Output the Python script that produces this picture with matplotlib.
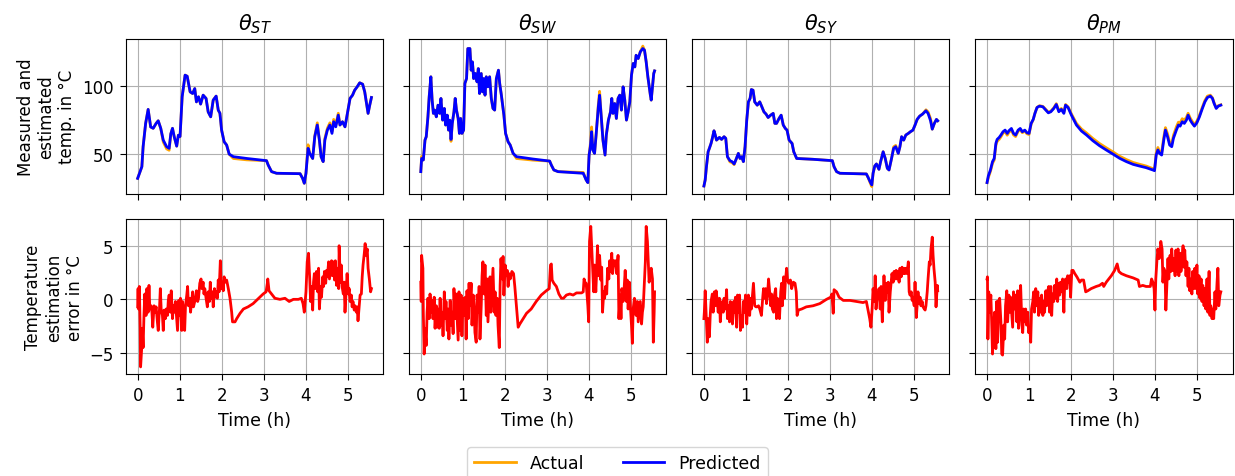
import matplotlib
matplotlib.use("Agg")
import matplotlib.pyplot as plt

# temperature traces (hours, degC)
t_st = [0.00, 0.10, 0.13, 0.19, 0.25, 0.31, 0.37, 0.44, 0.49, 0.55, 0.61, 0.69, 0.75, 0.79, 0.83, 0.87,
        0.93, 0.97, 1.01, 1.06, 1.13, 1.18, 1.25, 1.31, 1.36, 1.40, 1.45, 1.50, 1.56, 1.63, 1.68, 1.74,
        1.80, 1.87, 1.92, 1.96, 2.00, 2.06, 2.12, 2.18, 2.28, 2.60, 3.07, 3.11, 3.19, 3.31, 3.87, 3.93,
        3.97, 4.01, 4.06, 4.10, 4.17, 4.22, 4.28, 4.33, 4.37, 4.42, 4.46, 4.52, 4.58, 4.63, 4.67, 4.72,
        4.78, 4.82, 4.88, 4.94, 4.99, 5.06, 5.12, 5.17, 5.23, 5.29, 5.36, 5.41, 5.49, 5.53, 5.57]
act_st = [32.5, 41, 55.6, 72.6, 82.8, 70, 69, 72.6, 74.5, 69, 59.0, 54.0, 53.0, 65, 69, 63,
          56, 64, 63, 92, 107.8, 107, 95.6, 94.4, 98, 88.3, 92, 86.7, 93.2, 90.8, 81, 77.4,
          89.6, 92.5, 82.3, 80, 67.7, 59.2, 56.8, 50.2, 47.0, 46.0, 45.4, 42.2, 37.4, 36.2, 35.9, 32.5,
          28.9, 36.2, 57.0, 50.7, 47, 63.5, 73.0, 60.4, 48.3, 44.7, 61.5, 69.0, 73.0, 66.5, 75.5, 71.5,
          80.0, 71.4, 73.8, 70.1, 78.6, 90.8, 93.2, 96.8, 99.3, 102.2, 101.2, 95.6, 79.9, 86, 91.5]
pred_st = [32.5, 41, 55.6, 72.6, 82.8, 70, 69, 72.6, 74.5, 69, 60.4, 55.6, 54.4, 65, 69, 63,
           56, 64, 63, 92, 107.8, 107, 95.6, 94.4, 98, 88.3, 92, 86.7, 93.2, 90.8, 81, 77.4,
           89.6, 92.5, 82.3, 80, 67.7, 59.2, 56.8, 50.2, 48.3, 47.0, 45.4, 42.2, 37.4, 36.2, 35.9, 32.5,
           28.9, 36.2, 54.4, 50.7, 47, 62.9, 71.4, 60.4, 48.3, 44.7, 60.4, 67.7, 71.4, 65.3, 73.8, 70.1,
           78.6, 71.4, 73.8, 70.1, 78.6, 90.8, 93.2, 96.8, 99.3, 102.2, 101.2, 95.6, 79.9, 86, 91.5]

t_sw = [0.00, 0.02, 0.06, 0.10, 0.13, 0.17, 0.20, 0.24, 0.27, 0.30, 0.33, 0.37, 0.41, 0.45, 0.48, 0.52,
        0.56, 0.59, 0.63, 0.66, 0.69, 0.72, 0.75, 0.79, 0.82, 0.85, 0.89, 0.92, 0.95, 0.98, 1.02, 1.05,
        1.09, 1.12, 1.17, 1.20, 1.23, 1.26, 1.30, 1.34, 1.37, 1.40, 1.44, 1.47, 1.50, 1.53, 1.56, 1.60,
        1.64, 1.68, 1.72, 1.76, 1.80, 1.85, 1.88, 1.92, 1.98, 2.02, 2.08, 2.13, 2.20, 2.28, 2.67, 3.07,
        3.11, 3.17, 3.27, 3.87, 3.94, 3.98, 4.01, 4.04, 4.07, 4.10, 4.14, 4.18, 4.23, 4.26, 4.30, 4.34,
        4.39, 4.42, 4.47, 4.52, 4.55, 4.58, 4.62, 4.66, 4.70, 4.74, 4.78, 4.82, 4.86, 4.90, 4.94, 4.98,
        5.02, 5.06, 5.10, 5.13, 5.18, 5.23, 5.29, 5.33, 5.37, 5.41, 5.47, 5.49, 5.52, 5.55, 5.57]
act_sw = [37.4, 48.5, 45.9, 60.4, 62.9, 77.4, 92, 106.6, 89.6, 79.9, 82.3, 77.4, 85.9, 79.9, 90.8, 75,
          83.5, 71.4, 78.6, 67.7, 73.5, 59.5, 72.6, 81, 90.8, 82.3, 76.2, 65.3, 76.2, 65.3, 67.7, 101.7,
          105.3, 127.2, 127.2, 111.4, 117.5, 105.3, 109, 102.9, 112.6, 94.4, 109, 95.6, 105.3, 93.2, 106.6, 99.3,
          106.6, 90.8, 83.5, 82.3, 105.3, 111.4, 101.7, 93.2, 78.6, 65.3, 59.2, 56.8, 50.7, 47.0, 45.8, 45.1,
          42.2, 38.6, 37.4, 36.8, 31.3, 29.4, 49.5, 57.5, 70.0, 53.2, 50.7, 65.3, 86.5, 96.0, 77.4, 60.4,
          49.5, 64.1, 75, 81, 90.8, 79.9, 87.1, 76.2, 90.8, 93.2, 82.3, 99.3, 89.6, 75, 81, 88.3,
          107.8, 116.3, 113.8, 122.3, 119.9, 124.8, 129.0, 126, 117.5, 106.6, 93.2, 89.6, 99.3, 109, 110.9]
pred_sw = [37.4, 47, 45.9, 60.4, 62.9, 77.4, 92, 106.6, 89.6, 79.9, 82.3, 77.4, 85.9, 79.9, 90.8, 75,
           83.5, 71.4, 78.6, 67.7, 75, 60.9, 72.6, 81, 90.8, 82.3, 76.2, 65.3, 76.2, 65.3, 67.7, 101.7,
           105.3, 127.2, 127.2, 111.4, 117.5, 105.3, 109, 102.9, 112.6, 94.4, 109, 95.6, 105.3, 93.2, 106.6, 99.3,
           106.6, 90.8, 83.5, 82.3, 105.3, 111.4, 101.7, 93.2, 78.6, 65.3, 59.2, 56.8, 50.7, 48.3, 46.6, 45.1,
           42.2, 38.6, 37.4, 36.2, 31.3, 29.4, 49.5, 55.6, 66.5, 53.2, 50.7, 65.3, 84.7, 93.2, 77.4, 60.4,
           49.5, 64.1, 75, 81, 90.8, 79.9, 87.1, 76.2, 90.8, 93.2, 82.3, 99.3, 89.6, 75, 81, 88.3,
           107.8, 116.3, 113.8, 122.3, 119.9, 124.8, 127.2, 126, 117.5, 106.6, 93.2, 89.6, 99.3, 109, 110.9]

t_sy = [0.00, 0.03, 0.06, 0.10, 0.13, 0.17, 0.20, 0.24, 0.27, 0.30, 0.37, 0.42, 0.48, 0.52, 0.56, 0.62,
        0.67, 0.72, 0.76, 0.82, 0.86, 0.90, 0.94, 0.98, 1.02, 1.06, 1.10, 1.13, 1.17, 1.21, 1.27, 1.33,
        1.38, 1.43, 1.48, 1.53, 1.59, 1.65, 1.69, 1.73, 1.79, 1.84, 1.89, 1.94, 1.98, 2.03, 2.10, 2.14,
        2.21, 2.60, 3.06, 3.10, 3.16, 3.24, 3.87, 3.91, 3.97, 4.00, 4.03, 4.07, 4.11, 4.17, 4.21, 4.27,
        4.32, 4.37, 4.41, 4.47, 4.52, 4.57, 4.63, 4.67, 4.71, 4.76, 4.81, 4.87, 4.92, 4.98, 5.03, 5.08,
        5.14, 5.21, 5.29, 5.34, 5.40, 5.44, 5.49, 5.54, 5.57]
act_sy = [26.9, 31.3, 41, 51.9, 54.4, 58, 61.7, 67.2, 64.1, 60.4, 62.4, 60.9, 62.9, 61.7, 48.3, 44.5,
          44.0, 42.5, 45.9, 50.7, 47, 48.3, 44.7, 55.6, 75, 88.3, 90.8, 97.3, 96.8, 88.3, 85.9, 88.3,
          84.7, 81, 79.4, 76.9, 78.6, 79.9, 72.6, 72.6, 76.2, 78.6, 71.4, 68.9, 67.7, 60.4, 58, 51.9,
          47, 46.4, 45.4, 41, 37.4, 36.2, 35.7, 33.3, 28.5, 26.5, 36.2, 41.5, 43, 39.1, 44.7, 51.9,
          47, 39.8, 38.6, 47, 55.5, 56.5, 50.7, 55.6, 62.9, 60.4, 64.1, 65.3, 66.5, 67.7, 71.4, 75.5,
          77.9, 79.4, 82.5, 81.0, 76.0, 68.4, 72.6, 75.5, 74.5]
pred_sy = [26.9, 31.3, 41, 51.9, 54.4, 58, 61.7, 67.2, 64.1, 60.4, 62.4, 60.9, 62.9, 61.7, 48.3, 45.4,
           44.7, 43, 45.9, 50.7, 47, 48.3, 44.7, 55.6, 75, 88.3, 90.8, 97.3, 96.8, 88.3, 85.9, 88.3,
           84.7, 81, 79.4, 76.9, 78.6, 79.9, 72.6, 72.6, 76.2, 78.6, 71.4, 68.9, 67.7, 60.4, 58, 51.9,
           47, 46.4, 45.4, 41, 37.4, 36.2, 35.7, 33.3, 29.4, 27.7, 36.2, 41.5, 43, 39.1, 44.7, 51.9,
           47, 39.8, 38.6, 47, 54.4, 55.6, 50.7, 55.6, 62.9, 60.4, 64.1, 65.3, 66.5, 67.7, 71.4, 75.5,
           77.9, 79.4, 81.8, 79.9, 74.5, 68.4, 72.6, 75.5, 74.5]

t_pm = [0.00, 0.03, 0.08, 0.13, 0.17, 0.21, 0.24, 0.29, 0.33, 0.38, 0.43, 0.48, 0.52, 0.58, 0.63, 0.68,
        0.74, 0.79, 0.84, 0.90, 0.95, 1.00, 1.05, 1.10, 1.14, 1.19, 1.25, 1.33, 1.40, 1.46, 1.52, 1.59,
        1.65, 1.71, 1.77, 1.83, 1.87, 1.93, 2.01, 2.13, 2.25, 2.37, 2.52, 2.68, 2.84, 3.00, 3.16, 3.32,
        3.48, 3.63, 3.79, 3.95, 3.99, 4.03, 4.07, 4.11, 4.16, 4.21, 4.25, 4.30, 4.35, 4.40, 4.44, 4.51,
        4.56, 4.60, 4.65, 4.70, 4.75, 4.79, 4.84, 4.89, 4.94, 5.00, 5.06, 5.13, 5.19, 5.25, 5.32, 5.37,
        5.41, 5.46, 5.51, 5.57]
act_pm = [29.4, 33.0, 37.5, 43.5, 45.8, 56.5, 59.5, 61.0, 62.8, 65.5, 66.5, 64.0, 66.0, 68.0, 64.2, 63.0,
          66.8, 68.0, 65.8, 67.0, 65.0, 64.5, 72.0, 75.5, 79.9, 84.2, 85.5, 85.0, 82.8, 80.8, 81.6, 84.0,
          87.0, 81.8, 83.5, 80.6, 86.4, 84.7, 79.5, 72.6, 68.5, 65.6, 61.6, 57.9, 54.8, 51.8, 48.6, 46.2,
          44.1, 42.8, 41.5, 39.6, 38.8, 51.0, 55.0, 52.0, 51.5, 62.5, 69.5, 65.0, 58.8, 57.6, 63.8, 70.0,
          73.5, 73.0, 76.0, 75.0, 77.0, 80.0, 76.5, 74.0, 71.8, 74.3, 78.5, 84.5, 89.3, 92.5, 93.2, 91.3,
          87.6, 84.0, 85.5, 86.2]
pred_pm = [29.4, 34.2, 38.6, 44.7, 47, 58, 60.9, 62.4, 64.1, 66.5, 67.7, 65.3, 67.2, 68.9, 65.3, 64.1,
           67.7, 68.9, 66.5, 67.7, 65.8, 65.3, 72.6, 75.5, 79.9, 84.2, 85.2, 84.7, 82.3, 80.3, 81.1, 83.5,
           86.4, 81.1, 82.8, 79.9, 85.9, 84.2, 78.6, 71.4, 67, 64.1, 60, 56.3, 53.2, 50.2, 47.1, 44.7,
           42.7, 41.5, 40.3, 38.6, 38.1, 49.5, 53.2, 50.7, 49.5, 60.4, 67.7, 62.9, 56.8, 55.6, 61.7, 67.7,
           71.4, 70.6, 73.8, 72.6, 75, 78.6, 75, 72.6, 70.6, 73.1, 77.4, 83.5, 88.3, 91.5, 92.5, 90.8,
           87.1, 83.5, 85.2, 85.9]

# estimation error traces (hours, degC)
te_st = [0.00, 0.01, 0.02, 0.04, 0.06, 0.07, 0.10, 0.11, 0.13, 0.15, 0.17, 0.20, 0.22, 0.25, 0.27, 0.29,
         0.32, 0.34, 0.36, 0.39, 0.41, 0.44, 0.47, 0.49, 0.52, 0.54, 0.56, 0.59, 0.61, 0.63, 0.66, 0.68,
         0.71, 0.73, 0.75, 0.78, 0.80, 0.83, 0.85, 0.87, 0.90, 0.93, 0.95, 0.98, 1.00, 1.02, 1.05, 1.07,
         1.10, 1.12, 1.14, 1.17, 1.19, 1.21, 1.24, 1.26, 1.29, 1.31, 1.33, 1.36, 1.38, 1.40, 1.43, 1.45,
         1.48, 1.51, 1.53, 1.56, 1.58, 1.60, 1.63, 1.66, 1.68, 1.71, 1.73, 1.75, 1.78, 1.80, 1.83, 1.85,
         1.87, 1.90, 1.92, 1.94, 1.97, 1.99, 2.02, 2.04, 2.06, 2.09, 2.12, 2.16, 2.20, 2.24, 2.26, 2.32,
         2.36, 2.44, 2.52, 2.63, 2.75, 2.83, 2.91, 2.99, 3.06, 3.09, 3.10, 3.13, 3.19, 3.27, 3.39, 3.51,
         3.61, 3.71, 3.83, 3.90, 3.94, 3.97, 4.01, 4.04, 4.07, 4.10, 4.12, 4.14, 4.17, 4.19, 4.21, 4.24,
         4.26, 4.29, 4.31, 4.33, 4.36, 4.38, 4.41, 4.43, 4.45, 4.48, 4.50, 4.52, 4.55, 4.57, 4.60, 4.62,
         4.64, 4.67, 4.69, 4.71, 4.74, 4.76, 4.79, 4.80, 4.83, 4.85, 4.87, 4.90, 4.92, 4.94, 4.97, 4.99,
         5.02, 5.04, 5.06, 5.09, 5.11, 5.13, 5.16, 5.18, 5.21, 5.23, 5.25, 5.28, 5.30, 5.33, 5.35, 5.37,
         5.40, 5.42, 5.44, 5.47, 5.49, 5.52, 5.55, 5.57]
err_st = [-0.7, 1.0, -0.9, 1.2, -2.7, -6.3, -4.3, -2.7, -4.5, -1.5, 0.5, -1.5, 1.0, -1.2, 1.3, -0.9,
          -0.6, -1.2, -2.6, -0.6, -1.2, -0.7, -2.1, -2.9, -0.9, 1.0, -0.9, -1.5, -2.9, -1.0, -1.8, -0.9,
          -1.5, -0.1, 0.4, -1.2, 0.8, -1.8, -0.6, -1.2, -0.2, -1.8, -2.9, -0.1, -1.5, 0.1, -2.9, -0.2,
          -1.8, -2.9, -0.6, 0.4, 1.2, -0.6, 0.1, -1.2, -0.1, 0.7, -0.7, -0.2, 0.2, 0.8, -0.2, 0.1,
          1.5, 1.9, 1.0, 1.6, 0.5, 1.0, 0.1, -0.7, 0.7, -0.2, 1.6, 0.1, 0.7, -0.7, 1.0, 0.2,
          0.7, 0.1, 1.8, 0.7, 3.6, 1.0, 1.6, 0.8, 2.1, 1.6, 1.8, 1.0, 0.1, -1.2, -2.1, -2.1,
          -1.8, -1.3, -0.9, -0.7, -0.4, -0.1, 0.2, 0.5, 0.7, 1.5, 1.9, 0.8, 0.5, 0.1, 0.0, 0.1,
          -0.2, 0.0, 0.0, 0.1, -0.4, -1.2, 0.7, 3.5, 4.3, 1.9, -0.2, 1.2, -1.0, 1.6, 2.4, 1.0,
          2.6, 0.7, 2.9, -0.9, 1.2, 0.2, 2.1, 1.2, 2.6, 1.5, 2.7, 2.1, 3.5, 1.9, 2.9, 3.6,
          2.2, 3.5, 1.8, 3.6, 1.3, 2.9, 1.0, 5.0, 1.6, 3.2, 1.2, 0.5, 1.6, -1.2, 1.0, 2.4,
          0.5, 1.0, -0.2, 0.4, -0.7, -0.2, -1.0, -0.6, -1.2, -0.7, -2.0, -0.6, 0.4, 0.5, 2.1, 3.2,
          4.3, 5.2, 4.1, 4.7, 2.9, 1.9, 0.7, 1.0]

te_sw = [0.00, 0.01, 0.02, 0.05, 0.06, 0.08, 0.10, 0.13, 0.15, 0.17, 0.20, 0.22, 0.25, 0.27, 0.29, 0.32,
         0.34, 0.37, 0.39, 0.41, 0.44, 0.46, 0.48, 0.51, 0.53, 0.56, 0.58, 0.60, 0.63, 0.65, 0.67, 0.70,
         0.72, 0.75, 0.77, 0.79, 0.82, 0.84, 0.87, 0.89, 0.91, 0.94, 0.96, 0.98, 1.01, 1.03, 1.06, 1.08,
         1.10, 1.13, 1.15, 1.17, 1.20, 1.22, 1.25, 1.27, 1.29, 1.32, 1.34, 1.37, 1.39, 1.41, 1.44, 1.46,
         1.48, 1.51, 1.53, 1.56, 1.58, 1.60, 1.63, 1.65, 1.67, 1.70, 1.72, 1.75, 1.77, 1.79, 1.82, 1.84,
         1.87, 1.89, 1.91, 1.94, 1.96, 1.98, 2.01, 2.03, 2.06, 2.08, 2.10, 2.13, 2.17, 2.21, 2.24, 2.28,
         2.32, 2.36, 2.44, 2.52, 2.63, 2.75, 2.87, 2.99, 3.06, 3.09, 3.11, 3.13, 3.17, 3.23, 3.29, 3.35,
         3.40, 3.47, 3.55, 3.63, 3.71, 3.83, 3.87, 3.89, 3.91, 3.94, 3.98, 4.00, 4.02, 4.05, 4.07, 4.10,
         4.12, 4.14, 4.17, 4.19, 4.21, 4.24, 4.26, 4.29, 4.31, 4.33, 4.36, 4.38, 4.40, 4.43, 4.45, 4.48,
         4.50, 4.52, 4.55, 4.57, 4.60, 4.62, 4.64, 4.67, 4.70, 4.72, 4.75, 4.77, 4.79, 4.82, 4.84, 4.87,
         4.90, 4.92, 4.94, 4.97, 4.99, 5.02, 5.04, 5.06, 5.09, 5.11, 5.13, 5.16, 5.18, 5.21, 5.23, 5.26,
         5.28, 5.30, 5.33, 5.35, 5.37, 5.40, 5.42, 5.44, 5.47, 5.49, 5.52, 5.54, 5.56, 5.57]
err_sw = [1.6, -0.2, 4.1, 2.9, -1.2, -5.1, -2.7, -4.3, -1.2, 0.1, -1.8, 0.5, -1.2, -0.1, -1.8, 0.2,
          -2.7, -0.6, -2.6, -0.9, -2.7, 0.1, -2.4, -1.2, -3.4, 0.7, -1.8, -0.2, -2.9, -0.9, -3.7, -0.1,
          -2.4, -1.2, -3.2, 1.0, -1.8, 0.5, -2.1, -3.8, 0.7, -2.9, 0.4, -3.4, 0.1, -1.5, 0.2, -3.7,
          0.8, -1.8, 1.5, -0.6, 1.5, -2.4, 0.4, -0.7, -3.1, -4.0, 0.4, -1.2, 1.2, -3.7, -0.6, 2.2,
          3.5, 0.5, 3.2, -1.5, 1.9, -2.1, 0.4, 2.1, -1.2, 1.3, 2.9, -1.2, 0.7, -1.5, 0.1, -2.4,
          -4.5, 1.3, 3.8, 1.9, 4.0, 0.4, 3.2, 2.2, 2.7, 1.2, 2.4, 1.9, 2.6, 2.4, 1.2, -0.7,
          -2.6, -2.3, -1.8, -1.3, -0.9, -0.2, 0.4, 0.8, 1.0, 3.2, 3.3, 1.8, 1.5, 1.2, 0.5, 0.1,
          0.1, 0.4, 0.5, 0.4, 0.6, 0.6, 0.7, 1.9, 1.6, 1.5, -0.6, -2.1, 5.4, 6.8, 5.0, 2.1,
          0.7, 3.2, 0.7, 2.6, 5.0, 2.2, 4.1, 1.8, 3.0, -1.2, 0.7, 0.1, 1.2, 0.5, 2.9, 1.9,
          3.6, 2.6, 4.3, 2.4, 3.6, 3.2, 3.6, 2.4, 4.1, -1.8, 0.4, -1.8, 1.0, -0.2, 0.7, 2.7,
          -0.2, 1.8, -0.9, 1.6, -0.4, -2.4, -4.1, -0.9, 0.1, -0.4, -1.5, -0.2, -2.1, -0.9, -0.2, -2.3,
          -1.2, -0.7, 1.9, 3.5, 6.8, 5.4, 3.5, 1.6, 2.6, 2.9, 1.9, -4.0, -1.2, 0.7]

te_sy = [0.00, 0.01, 0.03, 0.06, 0.08, 0.10, 0.13, 0.15, 0.17, 0.20, 0.22, 0.25, 0.27, 0.29, 0.32, 0.34,
         0.37, 0.39, 0.41, 0.44, 0.46, 0.48, 0.51, 0.54, 0.56, 0.59, 0.61, 0.63, 0.66, 0.68, 0.71, 0.73,
         0.75, 0.78, 0.80, 0.83, 0.85, 0.87, 0.90, 0.92, 0.94, 0.97, 0.99, 1.02, 1.04, 1.06, 1.09, 1.11,
         1.13, 1.16, 1.18, 1.21, 1.24, 1.27, 1.30, 1.33, 1.37, 1.40, 1.42, 1.44, 1.47, 1.49, 1.52, 1.54,
         1.56, 1.59, 1.61, 1.63, 1.66, 1.68, 1.71, 1.73, 1.75, 1.78, 1.80, 1.83, 1.85, 1.87, 1.90, 1.92,
         1.94, 1.97, 1.99, 2.02, 2.06, 2.09, 2.13, 2.17, 2.20, 2.22, 2.25, 2.33, 2.44, 2.60, 2.76, 2.92,
         3.02, 3.05, 3.08, 3.10, 3.16, 3.22, 3.32, 3.48, 3.63, 3.79, 3.87, 3.91, 3.95, 3.98, 4.01, 4.03,
         4.06, 4.08, 4.10, 4.13, 4.15, 4.17, 4.20, 4.22, 4.25, 4.27, 4.29, 4.32, 4.34, 4.37, 4.39, 4.41,
         4.44, 4.46, 4.48, 4.51, 4.53, 4.56, 4.58, 4.60, 4.63, 4.65, 4.67, 4.70, 4.72, 4.75, 4.77, 4.79,
         4.82, 4.84, 4.87, 4.89, 4.91, 4.94, 4.96, 4.98, 5.01, 5.03, 5.06, 5.08, 5.10, 5.13, 5.15, 5.17,
         5.20, 5.22, 5.25, 5.27, 5.29, 5.32, 5.34, 5.37, 5.39, 5.41, 5.44, 5.46, 5.48, 5.51, 5.53, 5.56,
         5.57]
err_sy = [-1.8, -1.2, 0.8, -2.1, -4.0, -1.8, -3.5, -1.5, -0.2, 0.5, -1.2, 0.7, -0.6, 0.8, -0.2, -1.2,
          0.1, -2.1, -0.9, -0.2, -1.2, 0.1, -0.9, 0.9, -1.8, -0.6, -2.1, -0.2, -1.2, -2.3, -0.2, -1.2,
          0.2, -2.6, 0.4, -1.2, 0.4, -2.9, -1.5, -2.6, -0.2, -1.2, 0.4, -2.3, -0.6, 0.4, -1.5, 0.1,
          -0.9, 0.5, 1.5, -0.6, -0.7, -0.7, -0.6, -0.9, -1.5, 0.1, 1.0, 0.1, 1.0, -0.4, 0.7, 1.9,
          1.0, -0.6, 0.5, -0.9, -1.2, 0.4, 1.0, -1.8, 0.1, -1.2, -1.8, 0.7, 1.5, -0.6, 2.1, 0.1,
          1.6, 2.9, 1.9, 1.5, 1.8, 1.0, 1.6, 1.5, 0.7, -1.5, -1.0, -0.9, -0.7, -0.6, -0.4, 0.0,
          0.2, 0.5, -1.3, 0.9, 0.7, 0.2, -0.1, -0.1, -0.2, -0.3, -0.2, -1.0, -1.8, -2.6, -0.7, 1.0,
          -0.2, 2.2, -0.9, 0.4, 0.2, 1.0, -0.9, 1.2, -2.1, 0.4, 2.2, -0.1, 1.5, 0.7, 1.6, -1.2,
          0.7, 1.6, 2.4, 1.6, 2.6, 1.9, 2.7, 1.9, 2.6, 1.6, 2.9, 2.1, 3.0, 2.4, 2.9, 2.4,
          2.9, 2.4, 3.5, 0.7, 0.4, 0.7, -0.1, 0.1, -0.6, 1.6, -1.7, -0.6, 0.7, -0.4, 0.2, -0.6,
          -0.2, -0.7, -0.9, -1.0, -0.6, 0.7, 1.9, 3.5, 3.2, 4.7, 5.8, 4.1, 2.9, 1.6, -0.7, 1.3,
          0.8]

te_pm = [0.00, 0.01, 0.02, 0.04, 0.06, 0.09, 0.11, 0.13, 0.16, 0.18, 0.21, 0.23, 0.25, 0.28, 0.30, 0.33,
         0.35, 0.37, 0.40, 0.42, 0.44, 0.47, 0.49, 0.52, 0.54, 0.56, 0.59, 0.61, 0.63, 0.66, 0.68, 0.71,
         0.73, 0.75, 0.78, 0.80, 0.83, 0.85, 0.87, 0.90, 0.92, 0.94, 0.97, 0.99, 1.02, 1.04, 1.06, 1.09,
         1.11, 1.13, 1.16, 1.18, 1.21, 1.23, 1.25, 1.28, 1.30, 1.33, 1.35, 1.37, 1.40, 1.42, 1.44, 1.47,
         1.49, 1.52, 1.54, 1.56, 1.59, 1.61, 1.63, 1.66, 1.68, 1.71, 1.73, 1.75, 1.78, 1.80, 1.83, 1.85,
         1.87, 1.90, 1.92, 1.94, 1.97, 1.99, 2.02, 2.05, 2.09, 2.14, 2.21, 2.25, 2.30, 2.35, 2.40, 2.48,
         2.60, 2.68, 2.75, 2.78, 2.84, 2.96, 3.04, 3.10, 3.14, 3.20, 3.32, 3.48, 3.60, 3.63, 3.71, 3.79,
         3.89, 3.92, 3.95, 3.98, 4.00, 4.02, 4.05, 4.07, 4.10, 4.12, 4.14, 4.17, 4.19, 4.21, 4.24, 4.26,
         4.29, 4.31, 4.33, 4.36, 4.38, 4.40, 4.43, 4.45, 4.48, 4.50, 4.52, 4.55, 4.57, 4.60, 4.62, 4.64,
         4.67, 4.69, 4.71, 4.74, 4.76, 4.79, 4.81, 4.83, 4.86, 4.88, 4.90, 4.93, 4.95, 4.98, 5.00, 5.02,
         5.05, 5.07, 5.10, 5.12, 5.14, 5.17, 5.19, 5.21, 5.24, 5.26, 5.29, 5.31, 5.33, 5.36, 5.38, 5.40,
         5.43, 5.45, 5.48, 5.50, 5.52, 5.55, 5.57]
err_pm = [1.9, 2.1, -3.7, 0.7, -1.2, 0.4, -2.1, -5.1, -2.4, -1.2, -4.6, -0.2, -4.0, -0.1, 0.1, -2.1,
          -5.1, -5.2, -2.4, -3.7, -0.6, 0.8, -2.1, 0.4, -1.2, 0.2, -1.5, -2.6, 0.7, -0.9, 0.4, -2.1,
          0.8, -2.7, -0.6, 1.3, -2.4, -3.1, -0.9, -2.1, -0.9, -2.4, -1.2, -3.1, -2.7, -4.0, -0.9, -0.2,
          0.7, -1.2, 1.0, -0.6, 0.7, -1.5, 0.1, -1.2, 0.4, -1.5, -0.2, -1.2, 0.8, -0.6, 0.7, 1.2,
          -1.2, 1.2, -1.5, 0.5, -0.2, 1.3, 0.1, 1.9, -0.2, 1.5, 0.4, 1.6, 0.7, 1.9, -1.2, 1.5,
          1.9, 1.0, 2.2, 1.6, 2.2, 0.2, 2.7, 2.7, 2.4, 2.1, 1.6, 1.8, 1.8, 0.7, 0.8, 1.0,
          1.2, 1.3, 1.5, 1.2, 1.6, 2.2, 2.7, 3.3, 2.6, 2.4, 2.2, 2.0, 1.8, 1.2, 1.3, 1.2,
          1.2, 1.9, 1.6, 1.0, -1.0, 1.9, 3.8, 4.7, 3.8, 4.4, 5.4, 4.7, 1.6, 2.9, 2.6, -1.0,
          1.9, 3.8, 1.9, 4.1, 2.6, 4.7, 2.7, 3.8, 2.2, 4.6, 2.6, 4.7, 2.2, 4.3, 2.6, 3.5,
          5.0, 3.0, 4.6, 2.2, 3.5, 1.2, 2.9, 0.8, 1.9, 0.5, 2.6, 1.0, 2.9, 1.0, 3.2, 0.5,
          2.2, 0.1, 1.9, -0.2, 1.3, -0.6, 1.0, -0.9, 1.9, -1.2, 2.6, -1.5, -0.6, -1.8, -0.9, -1.8,
          0.7, -0.9, 1.6, 2.9, -0.6, 0.4, 0.7]

titles = [r"$\theta_{ST}$", r"$\theta_{SW}$", r"$\theta_{SY}$", r"$\theta_{PM}$"]
temp_t = [t_st, t_sw, t_sy, t_pm]
temp_act = [act_st, act_sw, act_sy, act_pm]
temp_pred = [pred_st, pred_sw, pred_sy, pred_pm]
err_t = [te_st, te_sw, te_sy, te_pm]
err_v = [err_st, err_sw, err_sy, err_pm]

plt.rcParams["font.size"] = 12
plt.rcParams["xtick.major.size"] = 4.5
plt.rcParams["ytick.major.size"] = 4.5
plt.rcParams["xtick.major.pad"] = 4.5
plt.rcParams["ytick.major.pad"] = 4.5

fig, axes = plt.subplots(2, 4, figsize=(12.35, 4.77), dpi=100, sharex=True, sharey="row")
fig.subplots_adjust(left=0.102, right=0.998, top=0.916, bottom=0.214, wspace=0.101, hspace=0.167)

for i in range(4):
    ax_top = axes[0, i]
    ax_bot = axes[1, i]

    ax_top.plot(temp_t[i], temp_act[i], color="orange", lw=2, label="Actual")
    ax_top.plot(temp_t[i], temp_pred[i], color="blue", lw=2, label="Predicted")
    ax_top.set_title(titles[i], fontsize=15, pad=7)
    ax_top.grid(True)

    ax_bot.plot(err_t[i], err_v[i], color="red", lw=2)
    ax_bot.set_xlabel("Time (h)", fontsize=12.5, labelpad=5)
    ax_bot.grid(True)
    ax_bot.set_xticks([0, 1, 2, 3, 4, 5])

axes[0, 0].set_ylabel("Measured and\nestimated\ntemp. in °C")
axes[1, 0].set_ylabel("Temperature\nestimation\nerror in °C")

handles, labels = axes[0, 0].get_legend_handles_labels()
fig.legend(handles, labels, loc="lower center", bbox_to_anchor=(0.5, -0.025), ncol=2,
           fontsize=12.5, handlelength=2.4, columnspacing=2.2)

fig.savefig("out.png", dpi=100)
